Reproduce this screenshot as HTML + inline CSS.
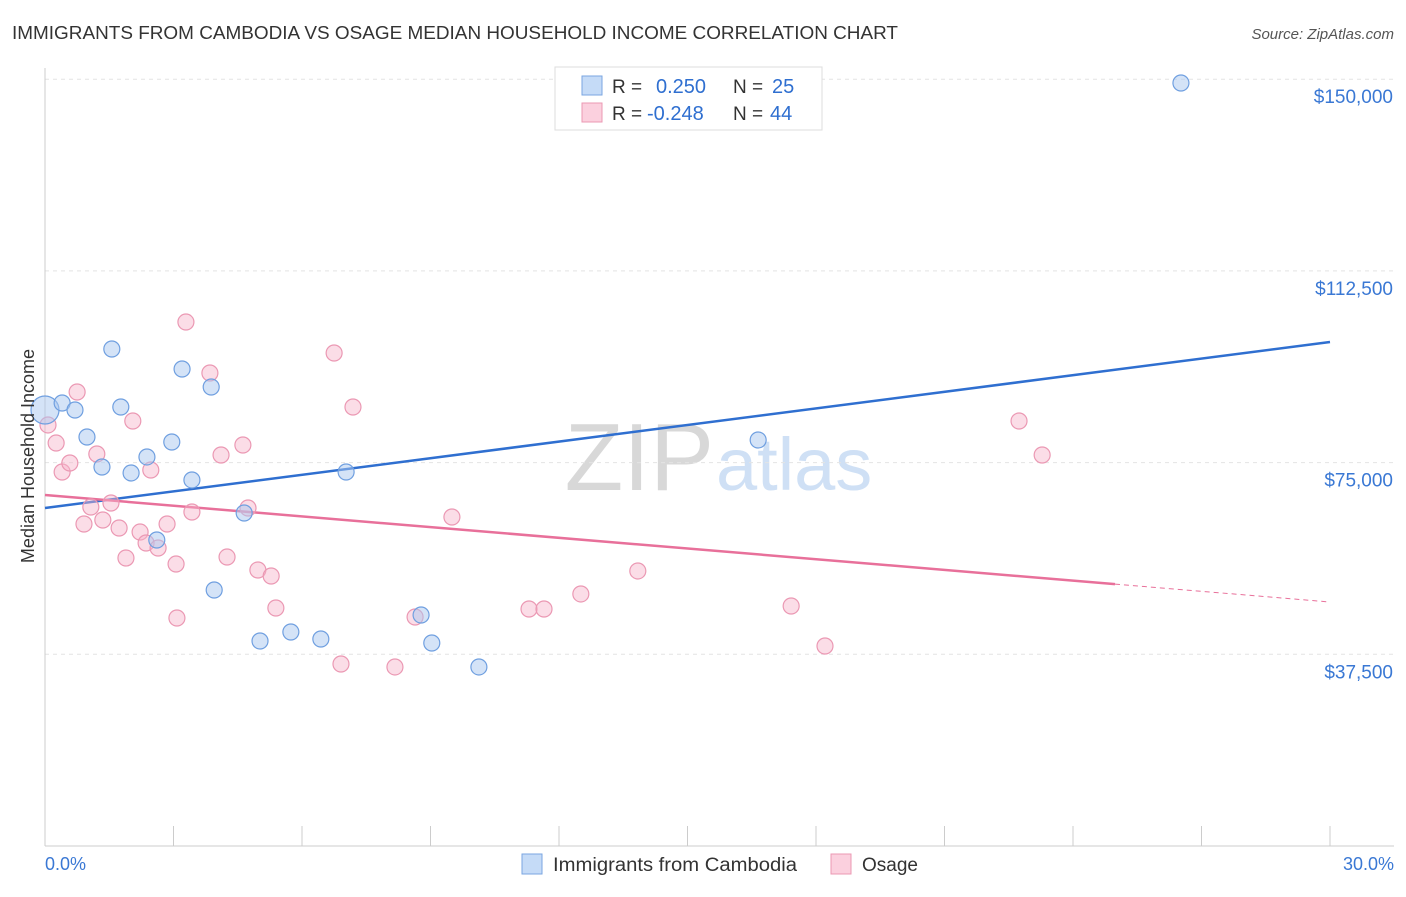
<!DOCTYPE html>
<html><head><meta charset="utf-8"><style>
body{margin:0;background:#fff;font-family:"Liberation Sans",sans-serif;}
svg text{font-family:"Liberation Sans",sans-serif;}
</style></head><body>
<svg id="chart" width="1406" height="892">
<text x="12" y="39" font-size="18" fill="#333" textLength="886" lengthAdjust="spacingAndGlyphs">IMMIGRANTS FROM CAMBODIA VS OSAGE MEDIAN HOUSEHOLD INCOME CORRELATION CHART</text>
<text x="1394" y="39" font-size="15" fill="#555" text-anchor="end" font-style="italic">Source: ZipAtlas.com</text>
<text x="714" y="490" font-size="96" fill="#d8d8d8" text-anchor="end" font-family="Liberation Serif">ZIP</text>
<text x="716" y="490" font-size="74" fill="#cfe0f5">atlas</text>
<g id="grid"></g><g id="axes"></g><g id="trends"></g><g id="points"></g>
<text transform="translate(34,456) rotate(-90)" font-size="18" fill="#333" text-anchor="middle">Median Household Income</text>
<text x="45" y="870" font-size="18" fill="#3a78d4">0.0%</text>
<text x="1394" y="870" font-size="18" fill="#3a78d4" text-anchor="end">30.0%</text>
<g>
<rect x="555" y="67" width="267" height="63" fill="#fff" stroke="#ddd"/>
<rect x="582" y="76" width="20" height="19" fill="#c5dbf7" stroke="#7aa6e0"/>
<rect x="582" y="103" width="20" height="19" fill="#fbd0de" stroke="#eb98b3"/>
<text x="612" y="93" font-size="19" fill="#333">R =</text>
<text x="656" y="93" font-size="20" fill="#2f6fd0">0.250</text>
<text x="733" y="93" font-size="19" fill="#333">N =</text>
<text x="772" y="93" font-size="20" fill="#2f6fd0">25</text>
<text x="612" y="120" font-size="19" fill="#333">R =</text>
<text x="647" y="120" font-size="20" fill="#2f6fd0">-0.248</text>
<text x="733" y="120" font-size="19" fill="#333">N =</text>
<text x="770" y="120" font-size="20" fill="#2f6fd0">44</text>
</g>
<g>
<rect x="522" y="854" width="20" height="20" fill="#c5dbf7" stroke="#7aa6e0"/>
<text x="553" y="871" font-size="19" fill="#333" textLength="244" lengthAdjust="spacingAndGlyphs">Immigrants from Cambodia</text>
<rect x="831" y="854" width="20" height="20" fill="#fbd0de" stroke="#eb98b3"/>
<text x="862" y="871" font-size="19" fill="#333" textLength="56" lengthAdjust="spacingAndGlyphs">Osage</text>
</g>
</svg>
<script>
const yTicks=[37500,75000,112500,150000];
const yTickLabels=["$37,500","$75,000","$112,500","$150,000"];
const blueX=[0,0.40,0.70,0.98,1.33,1.56,1.77,2.01,2.38,2.61,2.96,3.20,3.43,3.88,3.95,4.65,5.02,5.74,6.44,7.03,8.78,9.03,10.13,16.65,26.52];
const blueY=[85290,86660,85290,80010,74140,97220,85880,72970,76100,59860,79030,93310,71600,89790,50080,65140,40100,41860,40490,73160,45190,39710,35020,79420,149260];
const pinkX=[0.07,0.26,0.40,0.58,0.75,0.91,1.07,1.21,1.35,1.54,1.73,1.89,2.05,2.22,2.36,2.47,2.64,2.85,3.06,3.08,3.29,3.43,3.85,4.11,4.25,4.62,4.74,4.97,5.28,5.39,6.75,6.91,7.19,8.17,8.64,9.50,11.30,11.65,12.51,13.84,17.42,18.21,22.74,23.28];
const pinkY=[82360,78830,73160,74920,88810,62990,66310,76680,63770,67100,62210,56340,83140,61420,59270,73550,58290,62990,55160,44600,102500,65340,92530,76490,56530,78440,66120,53990,52820,46560,96440,35600,85880,35020,44800,64360,46360,46360,49300,53800,46950,39120,83140,76490];
const blueTrend=[66120,98590];
const pinkTrend=[68660,47730];
const pinkSolidEnd=24.98;
const NS="http://www.w3.org/2000/svg";
const xs=v=>45+v/30*1285;
const ys=v=>846-v/37500*191.7;
function mk(tag,attrs,parent){const e=document.createElementNS(NS,tag);for(const k in attrs)e.setAttribute(k,attrs[k]);document.getElementById(parent).appendChild(e);return e;}
yTicks.forEach((t,i)=>{
 const g=mk('line',{x1:45,x2:1394,y1:ys(t),y2:ys(t),stroke:'#e4e4e4','stroke-dasharray':'4,4'},'grid');
 
 
 const l=mk('text',{x:1393,y:ys(t)+24,'font-size':19,fill:'#3a78d4','text-anchor':'end'},'grid');
 l.textContent=yTickLabels[i];
 
 
});
const ax=mk('line',{x1:45,x2:1394,y1:846,y2:846,stroke:'#ccc'},'axes');


const ay=mk('line',{x1:45,x2:45,y1:68,y2:846,stroke:'#ccc'},'axes');


for(let i=0;i<=10;i++){const t=mk('line',{x1:xs(i*3),x2:xs(i*3),y1:826,y2:846,stroke:'#ccc'},'axes');
 
 }
const bt=mk('line',{x1:xs(0),y1:ys(blueTrend[0]),x2:xs(30),y2:ys(blueTrend[1]),stroke:'#2f6fd0','stroke-width':2.5},'trends');


const pAt=x=>pinkTrend[0]+(pinkTrend[1]-pinkTrend[0])*x/30;
const pt=mk('line',{x1:xs(0),y1:ys(pinkTrend[0]),x2:xs(pinkSolidEnd),y2:ys(pAt(pinkSolidEnd)),stroke:'#e8709a','stroke-width':2.5},'trends');


const pd=mk('line',{x1:xs(pinkSolidEnd),y1:ys(pAt(pinkSolidEnd)),x2:xs(30),y2:ys(pinkTrend[1]),stroke:'#e8709a','stroke-width':1,'stroke-dasharray':'5,4'},'trends');


pinkX.forEach((x,i)=>{const c=mk('circle',{cx:xs(x),cy:ys(pinkY[i]),r:8,fill:'rgba(246,180,202,0.45)',stroke:'#eb98b3','stroke-width':1.2},'points');
 
 });
blueX.forEach((x,i)=>{const c=mk('circle',{cx:xs(x),cy:ys(blueY[i]),r:i==0?14:8,fill:'rgba(170,200,240,0.5)',stroke:'#6f9fe0','stroke-width':1.2},'points');
 
 });
</script>
</body></html>
